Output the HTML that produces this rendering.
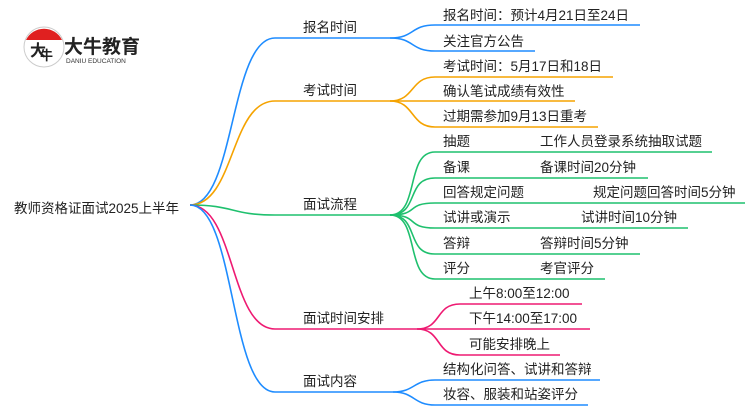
<!DOCTYPE html>
<html><head><meta charset="utf-8"><style>
body{margin:0;width:750px;height:410px;background:#fff;overflow:hidden}
svg text{font-family:"Liberation Sans","Noto Sans CJK SC",sans-serif;font-size:13.5px;fill:#222}
</style></head><body>
<svg width="750" height="410" xmlns="http://www.w3.org/2000/svg" fill="none" stroke-width="1.6">
<!-- logo -->
<circle cx="44" cy="47" r="20" fill="#fff" stroke="#ccc" stroke-width="1"/>
<path d="M26,40 A20,20 0 0 1 62,40 Z" fill="#e02020" stroke="none"/>
<text x="30" y="56" style="font-size:16px;font-weight:bold">大</text>
<text x="40" y="60" style="font-size:13px;font-weight:bold">牛</text>
<text x="64" y="53" style="font-size:19px;font-weight:bold;fill:#222">大牛教育</text>
<text x="66" y="63" style="font-size:6.5px;fill:#333">DANIU EDUCATION</text>
<!-- root -->
<text x="14" y="213">教师资格证面试2025上半年</text>
<!-- L1 curves -->
<path d="M190,205 C235,205 230,38 275,38 H390" stroke="#1e8cff"/>
<path d="M190,205 C235,205 230,101 275,101 H390" stroke="#f5a300"/>
<path d="M190,205 C235,205 230,215 275,215 H390" stroke="#1fc06e"/>
<path d="M190,205 C235,205 230,329 275,329 H417" stroke="#ee1a72"/>
<path d="M190,205 C235,205 230,392 275,392 H393" stroke="#1e8cff"/>
<text x="303" y="32">报名时间</text>
<text x="303" y="95">考试时间</text>
<text x="303" y="209">面试流程</text>
<text x="303" y="323">面试时间安排</text>
<text x="303" y="386">面试内容</text>
<!-- 报名 -->
<g stroke="#1e8cff">
<path d="M390,38 C415,38 410,25 435,25 H640"/>
<path d="M390,38 C415,38 410,51 435,51 H535"/>
</g>
<text x="443" y="20">报名时间：预计4月21日至24日</text>
<text x="443" y="46">关注官方公告</text>
<!-- 考试 -->
<g stroke="#f5a300">
<path d="M390,101 C415,101 410,77 435,77 H613"/>
<path d="M390,101 H575"/>
<path d="M390,101 C415,101 410,127 435,127 H598"/>
</g>
<text x="443" y="71">考试时间：5月17日和18日</text>
<text x="443" y="96">确认笔试成绩有效性</text>
<text x="443" y="121">过期需参加9月13日重考</text>
<!-- 面试流程 -->
<g stroke="#1fc06e">
<path d="M390,215 C420,215 405,152 435,152 H712"/>
<path d="M390,215 C420,215 405,178 435,178 H648"/>
<path d="M390,215 C420,215 405,203 435,203 H745"/>
<path d="M390,215 C420,215 405,228 435,228 H688"/>
<path d="M390,215 C420,215 405,254 435,254 H640"/>
<path d="M390,215 C420,215 405,279 435,279 H605"/>
</g>
<text x="443" y="146">抽题</text><text x="540" y="146">工作人员登录系统抽取试题</text>
<text x="443" y="172">备课</text><text x="540" y="172">备课时间20分钟</text>
<text x="443" y="197">回答规定问题</text><text x="593" y="197">规定问题回答时间5分钟</text>
<text x="443" y="222">试讲或演示</text><text x="581" y="222">试讲时间10分钟</text>
<text x="443" y="248">答辩</text><text x="540" y="248">答辩时间5分钟</text>
<text x="443" y="273">评分</text><text x="540" y="273">考官评分</text>
<!-- 面试时间安排 -->
<g stroke="#ee1a72">
<path d="M417,329 C442,329 435,304 460,304 H582"/>
<path d="M417,329 H590"/>
<path d="M417,329 C442,329 435,355 460,355 H560"/>
</g>
<text x="469" y="298">上午8:00至12:00</text>
<text x="469" y="323">下午14:00至17:00</text>
<text x="469" y="349">可能安排晚上</text>
<!-- 面试内容 -->
<g stroke="#1e8cff">
<path d="M393,392 C415,392 413,380 435,380 H600"/>
<path d="M393,392 C415,392 413,405 435,405 H588"/>
</g>
<text x="443" y="374">结构化问答、试讲和答辩</text>
<text x="443" y="399">妆容、服装和站姿评分</text>
</svg>
</body></html>
